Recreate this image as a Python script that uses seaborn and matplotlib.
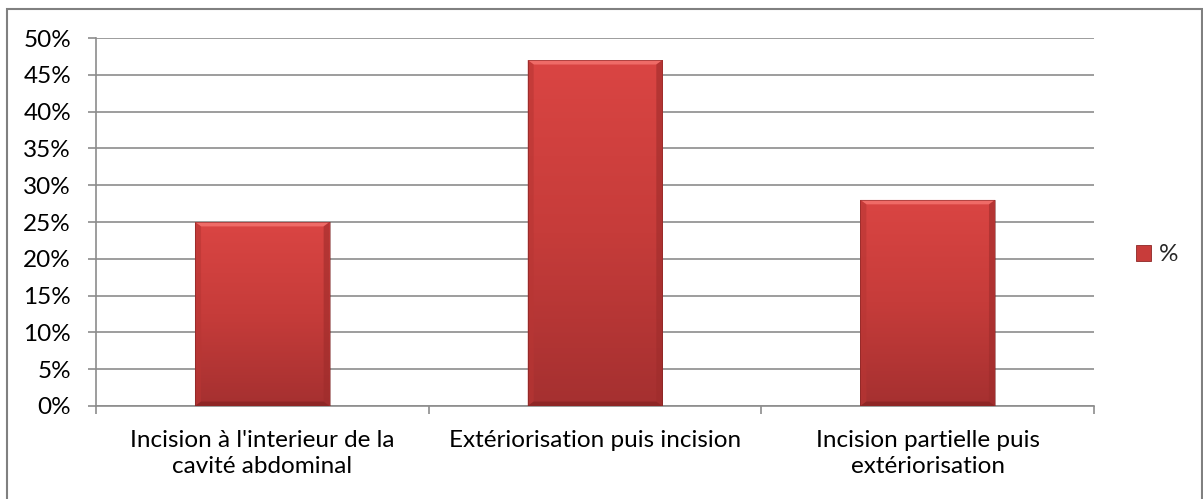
import numpy as np
import pandas as pd
import matplotlib
matplotlib.use("Agg")
import matplotlib.pyplot as plt
import seaborn as sns
from matplotlib.patches import Rectangle, Polygon
from matplotlib.colors import LinearSegmentedColormap

categories = [
    "Incision à l'interieur de la\ncavité abdominal",
    "Extériorisation puis incision",
    "Incision partielle puis\nextériorisation",
]
values = [25, 47, 28]
series_name = "%"
y_ticks = list(range(0, 51, 5))

sns.set_theme(style="white")
plt.rcParams["font.family"] = ["Lato", "DejaVu Sans"]

FS = 17.5

df = pd.DataFrame({"cat": categories, "val": values})

fig = plt.figure(figsize=(12.03, 4.99), dpi=100)
ax = fig.add_axes([0.0798, 0.1864, 0.8296, 0.7374])

sns.barplot(data=df, x="cat", y="val", ax=ax, color="#c83c3a", width=0.405,
            saturation=1, zorder=3)

ax.set_ylim(0, 50)
ax.set_xlim(-0.5, len(categories) - 0.5)
ax.set_yticks(y_ticks)
ax.set_yticklabels([f"{t}%" for t in y_ticks], fontsize=FS, color="#000000")
ax.set_xticks(range(len(categories)))
ax.set_xticklabels(categories, fontsize=FS, color="#000000", linespacing=1.3)
ax.set_xlabel("")
ax.set_ylabel("")

# gridlines and axes
ax.yaxis.grid(True, color="#8c8c8c", linewidth=1.2, zorder=0)
ax.set_axisbelow(True)
for s in ["top", "right"]:
    ax.spines[s].set_visible(False)
for s in ["left", "bottom"]:
    ax.spines[s].set_color("#8c8c8c")
    ax.spines[s].set_linewidth(1.2)

ax.tick_params(axis="y", which="major", left=True, length=6, width=1.2,
               color="#8c8c8c", pad=12)
ax.tick_params(axis="x", which="major", bottom=False, pad=11)
ax.set_xticks(np.arange(-0.5, len(categories), 1.0), minor=True)
ax.tick_params(axis="x", which="minor", bottom=True, length=6, width=1.2,
               color="#8c8c8c")

# gradient fill with bevelled edges on each bar
grad = LinearSegmentedColormap.from_list("bar", ["#a53030", "#c63c3a", "#da4543"])
for p in ax.patches:
    x0, y0 = p.get_x(), p.get_y()
    w, h = p.get_width(), p.get_height()
    p.set_edgecolor("none")
    img = ax.imshow(np.linspace(0, 1, 256).reshape(-1, 1), cmap=grad,
                    extent=[x0, x0 + w, y0, y0 + h], origin="lower",
                    aspect="auto", zorder=3.5)
    img.set_clip_path(p)
    bx = w * 0.045
    by = 0.6
    top = y0 + h
    # top bevel (light)
    ax.add_patch(Polygon([[x0, top], [x0 + w, top], [x0 + w - bx, top - by],
                          [x0 + bx, top - by]], closed=True,
                         facecolor="#ef6b67", edgecolor="none", zorder=4))
    # side bevels (shaded)
    ax.add_patch(Polygon([[x0, top], [x0 + bx, top - by], [x0 + bx, y0 + by],
                          [x0, y0]], closed=True,
                         facecolor="#b83634", alpha=0.6, edgecolor="none", zorder=4))
    ax.add_patch(Polygon([[x0 + w, top], [x0 + w - bx, top - by],
                          [x0 + w - bx, y0 + by], [x0 + w, y0]], closed=True,
                         facecolor="#9e2c2b", alpha=0.6, edgecolor="none", zorder=4))
    # bottom bevel (dark)
    ax.add_patch(Polygon([[x0, y0], [x0 + w, y0], [x0 + w - bx, y0 + by],
                          [x0 + bx, y0 + by]], closed=True,
                         facecolor="#8e2625", edgecolor="none", zorder=4))
    # thin dark outline
    ax.add_patch(Rectangle((x0, y0), w, h, facecolor="none",
                           edgecolor="#7a2020", linewidth=0.6, alpha=0.6, zorder=4.5))

ax.set_ylim(0, 50)
ax.set_xlim(-0.5, len(categories) - 0.5)

# legend
handle = Rectangle((0, 0), 1, 1, facecolor="#c83c3a", edgecolor="#8e2625", linewidth=0.6)
fig.legend([handle], [series_name], loc="center left",
           bbox_to_anchor=(0.944, 0.489), frameon=False, fontsize=FS,
           borderpad=0, borderaxespad=0, handlelength=0.65, handleheight=0.65,
           handletextpad=0.3)

# chart area border (bottom edge runs past the canvas)
fig.add_artist(Rectangle((0.0058, -0.02), 0.9934, 1.002, transform=fig.transFigure,
                         facecolor="none", edgecolor="#808080", linewidth=1.5))

fig.savefig("out.png", dpi=100, facecolor="white")
